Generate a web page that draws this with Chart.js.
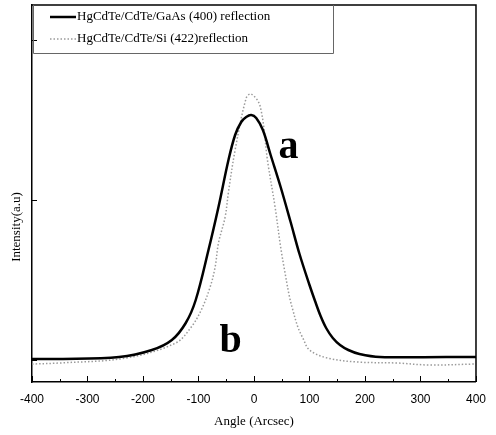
<!DOCTYPE html>
<html>
<head>
<meta charset="utf-8">
<script src="https://cdn.jsdelivr.net/npm/chart.js@4.4.1/dist/chart.umd.min.js"></script>
<style>
html,body{margin:0;padding:0;background:#fff;}
canvas{display:block;}
</style>
</head>
<body>
<canvas id="c" width="496" height="435"></canvas>
<script>
// ---- data ----
const seriesLabels = ["HgCdTe/CdTe/GaAs (400) reflection", "HgCdTe/CdTe/Si (422)reflection"];
const anglesA = [-400,-350,-243,-184,-148,-123,-105,-82,-64,-46,-34,-23,-14,-5,4,16,30,48,66,82,100,110,120,130,142,155,170,190,227,346,400];
const intensityA = [23,23,25,32,42,59,82,132,175,222,247,260,265,267,264,252,227,195,160,128,97,81,66,54,44,37,32,28,25,25,25];
const anglesB = [-400,-350,-230,-141,-113,-95,-79,-70,-64,-52,-46,-34,-14,-5,11,25,38,48,55,64,70,79,88,100,132,186,257,316,400];
const intensityB = [18,19,24,39,55,72,95,115,139,165,190,232,284,288,276,219,175,135,112,85,72,55,44,32,24,20,19,17,18];
const xTicks = [-400,-300,-200,-100,0,100,200,300,400];
const yTickValues = [22,182,342];
const peakLabels = [{text:"a", x:62, y:224}, {text:"b", x:-42, y:30}];

const ptsA = anglesA.map((x,i)=>({x:x, y:intensityA[i]}));
const ptsB = anglesB.map((x,i)=>({x:x, y:intensityB[i]}));

const decor = {
  id:'decor',
  afterDraw(chart){
    const ctx = chart.ctx, ca = chart.chartArea;
    const xs = chart.scales.x, ys = chart.scales.y;
    ctx.save();
    // frame top & right
    ctx.strokeStyle = '#000';
    ctx.lineWidth = 1.5;
    ctx.beginPath();
    ctx.moveTo(ca.left, ca.top); ctx.lineTo(ca.right, ca.top); ctx.lineTo(ca.right, ca.bottom);
    ctx.stroke();
    // inward x ticks
    ctx.lineWidth = 1;
    for (let v = -400; v <= 400; v += 50) {
      const px = Math.round(xs.getPixelForValue(v)) + 0.5;
      const len = (v % 100 === 0) ? 6 : 3;
      ctx.beginPath(); ctx.moveTo(px, ca.bottom); ctx.lineTo(px, ca.bottom - len); ctx.stroke();
    }
    // inward y ticks
    yTickValues.forEach(v => {
      const py = Math.round(ys.getPixelForValue(v)) + 0.5;
      ctx.beginPath(); ctx.moveTo(ca.left, py); ctx.lineTo(ca.left + 5, py); ctx.stroke();
    });
    // legend box
    ctx.strokeStyle = '#666';
    ctx.lineWidth = 1;
    ctx.beginPath();
    ctx.moveTo(ca.left + 1.5, ca.top); ctx.lineTo(ca.left + 1.5, 53.5); ctx.lineTo(333.5, 53.5); ctx.lineTo(333.5, ca.top);
    ctx.stroke();
    // legend entries
    const ds = chart.data.datasets;
    const rows = [17, 39];
    rows.forEach((ry, i) => {
      ctx.strokeStyle = ds[i].borderColor;
      ctx.lineWidth = ds[i].borderWidth;
      ctx.setLineDash(ds[i].borderDash || []);
      ctx.beginPath(); ctx.moveTo(50, ry); ctx.lineTo(76, ry); ctx.stroke();
      ctx.setLineDash([]);
      ctx.fillStyle = '#000';
      ctx.font = '13px "Liberation Serif", "DejaVu Serif", serif';
      ctx.textAlign = 'left'; ctx.textBaseline = 'middle';
      ctx.fillText(ds[i].label, 77, ry);
    });
    // peak labels
    ctx.font = 'bold 40px "Liberation Serif", serif';
    ctx.textAlign = 'center'; ctx.textBaseline = 'alphabetic';
    ctx.fillStyle = '#000';
    peakLabels.forEach(p => {
      ctx.fillText(p.text, xs.getPixelForValue(p.x), ys.getPixelForValue(p.y));
    });
    // axis titles
    ctx.font = '13px "Liberation Serif", serif';
    ctx.textBaseline = 'middle';
    ctx.fillText('Angle (Arcsec)', (ca.left + ca.right) / 2, 422);
    ctx.translate(17, 227);
    ctx.rotate(-Math.PI / 2);
    ctx.fillText('Intensity(a.u)', 0, 0);
    ctx.restore();
  }
};

new Chart(document.getElementById('c'), {
  type: 'line',
  data: {
    datasets: [
      { label: seriesLabels[0], data: ptsA, borderColor: '#000', borderWidth: 2.5,
        pointRadius: 0, fill: false, tension: 0.35, order: 0 },
      { label: seriesLabels[1], data: ptsB, borderColor: '#9a9a9a', borderWidth: 1.5, borderDash: [1.5, 2],
        pointRadius: 0, fill: false, tension: 0.35, order: 1 }
    ]
  },
  options: {
    responsive: false,
    devicePixelRatio: 1,
    animation: false,
    layout: { padding: { left: 0, right: 16, top: 5, bottom: 0 } },
    plugins: { legend: { display: false }, tooltip: { enabled: false } },
    scales: {
      x: {
        type: 'linear', min: -400, max: 400,
        afterBuildTicks: s => { s.ticks = xTicks.map(v => ({ value: v })); },
        afterFit: s => { s.height = 53; },
        ticks: { color: '#000', font: { family: '"Liberation Sans", Arial, sans-serif', size: 12 }, padding: 10, maxRotation: 0 },
        grid: { drawOnChartArea: false, drawTicks: false },
        border: { display: true, color: '#000', width: 1.5 }
      },
      y: {
        min: 0, max: 377,
        afterBuildTicks: s => { s.ticks = yTickValues.map(v => ({ value: v })); },
        afterFit: s => { s.width = 32; },
        ticks: { display: false },
        grid: { drawOnChartArea: false, drawTicks: false },
        border: { display: true, color: '#000', width: 1.5 }
      }
    }
  },
  plugins: [decor]
});
</script>
</body>
</html>
